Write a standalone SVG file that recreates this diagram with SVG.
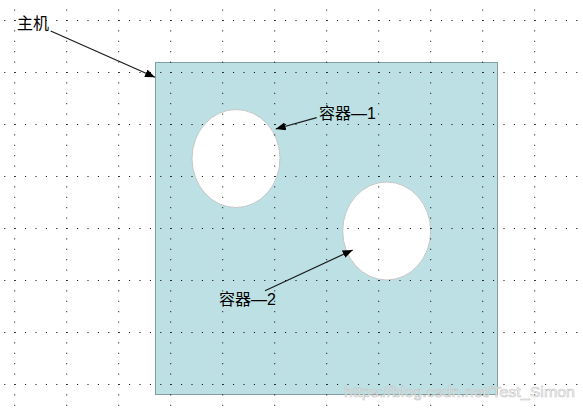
<svg xmlns="http://www.w3.org/2000/svg" width="583" height="412" viewBox="0 0 583 412">
<style>
.lbl{font-family:"Liberation Sans","Noto Sans CJK SC",sans-serif;font-size:16px;fill:#000}
.gh{stroke:#000;stroke-width:1;stroke-dasharray:1 9.4}
.conn{stroke:#1a1a1a;stroke-width:1.2;fill:none;marker-end:url(#ah)}
.wm{font-family:"Liberation Sans",Arial,sans-serif;font-size:15.5px;fill:#ffffff;fill-opacity:0.55;stroke:#c4c4c4;stroke-width:0.6}
</style>
<defs>
<marker id="ah" viewBox="0 0 10 8" refX="10" refY="4" markerWidth="10" markerHeight="8" markerUnits="userSpaceOnUse" orient="auto">
<path d="M0,0 L10,4 L0,8 Z" fill="#000"/>
</marker>
</defs>
<rect width="583" height="412" fill="#fff"/>
<g id="host">
<rect x="155.5" y="62.5" width="342" height="332" fill="#bce0e3" stroke="#7f9fa2" stroke-width="1"/>
</g>
<g id="container1">
<ellipse cx="236" cy="158.5" rx="44" ry="49" fill="#fff" stroke="#c6c6c6" stroke-width="1"/>
</g>
<g id="container2">
<ellipse cx="386.7" cy="231" rx="44" ry="49" fill="#fff" stroke="#c6c6c6" stroke-width="1"/>
</g>
<g id="grid">
<line class="gh" x1="4.3" y1="20.5" x2="583" y2="20.5"/>
<line class="gh" x1="4.3" y1="72.5" x2="583" y2="72.5"/>
<line class="gh" x1="4.3" y1="124.5" x2="583" y2="124.5"/>
<line class="gh" x1="4.3" y1="176.5" x2="583" y2="176.5"/>
<line class="gh" x1="4.3" y1="228.5" x2="583" y2="228.5"/>
<line class="gh" x1="4.3" y1="280.5" x2="583" y2="280.5"/>
<line class="gh" x1="4.3" y1="332.5" x2="583" y2="332.5"/>
<line class="gh" x1="4.3" y1="384.5" x2="583" y2="384.5"/>
<line class="gh" x1="14.7" y1="9.6" x2="14.7" y2="412"/>
<line class="gh" x1="66.7" y1="9.6" x2="66.7" y2="412"/>
<line class="gh" x1="118.7" y1="9.6" x2="118.7" y2="412"/>
<line class="gh" x1="170.7" y1="9.6" x2="170.7" y2="412"/>
<line class="gh" x1="222.7" y1="9.6" x2="222.7" y2="412"/>
<line class="gh" x1="274.7" y1="9.6" x2="274.7" y2="412"/>
<line class="gh" x1="326.7" y1="9.6" x2="326.7" y2="412"/>
<line class="gh" x1="378.7" y1="9.6" x2="378.7" y2="412"/>
<line class="gh" x1="430.7" y1="9.6" x2="430.7" y2="412"/>
<line class="gh" x1="482.7" y1="9.6" x2="482.7" y2="412"/>
<line class="gh" x1="534.7" y1="9.6" x2="534.7" y2="412"/>
</g>
<g id="connectors">
<line class="conn" x1="50.7" y1="31" x2="155" y2="77.3"/>
<line class="conn" x1="316.7" y1="117.7" x2="275.7" y2="129"/>
<line class="conn" x1="265" y1="290.7" x2="352.7" y2="250"/>
</g>
<g id="labels">
<text class="lbl" x="17" y="29">主机</text>
<text class="lbl" x="319" y="119">容器—1</text>
<text class="lbl" x="219" y="305">容器—2</text>
</g>
<text class="wm" x="344" y="397" textLength="231" lengthAdjust="spacingAndGlyphs">https://blog.csdn.net/Test_Simon</text>
</svg>
